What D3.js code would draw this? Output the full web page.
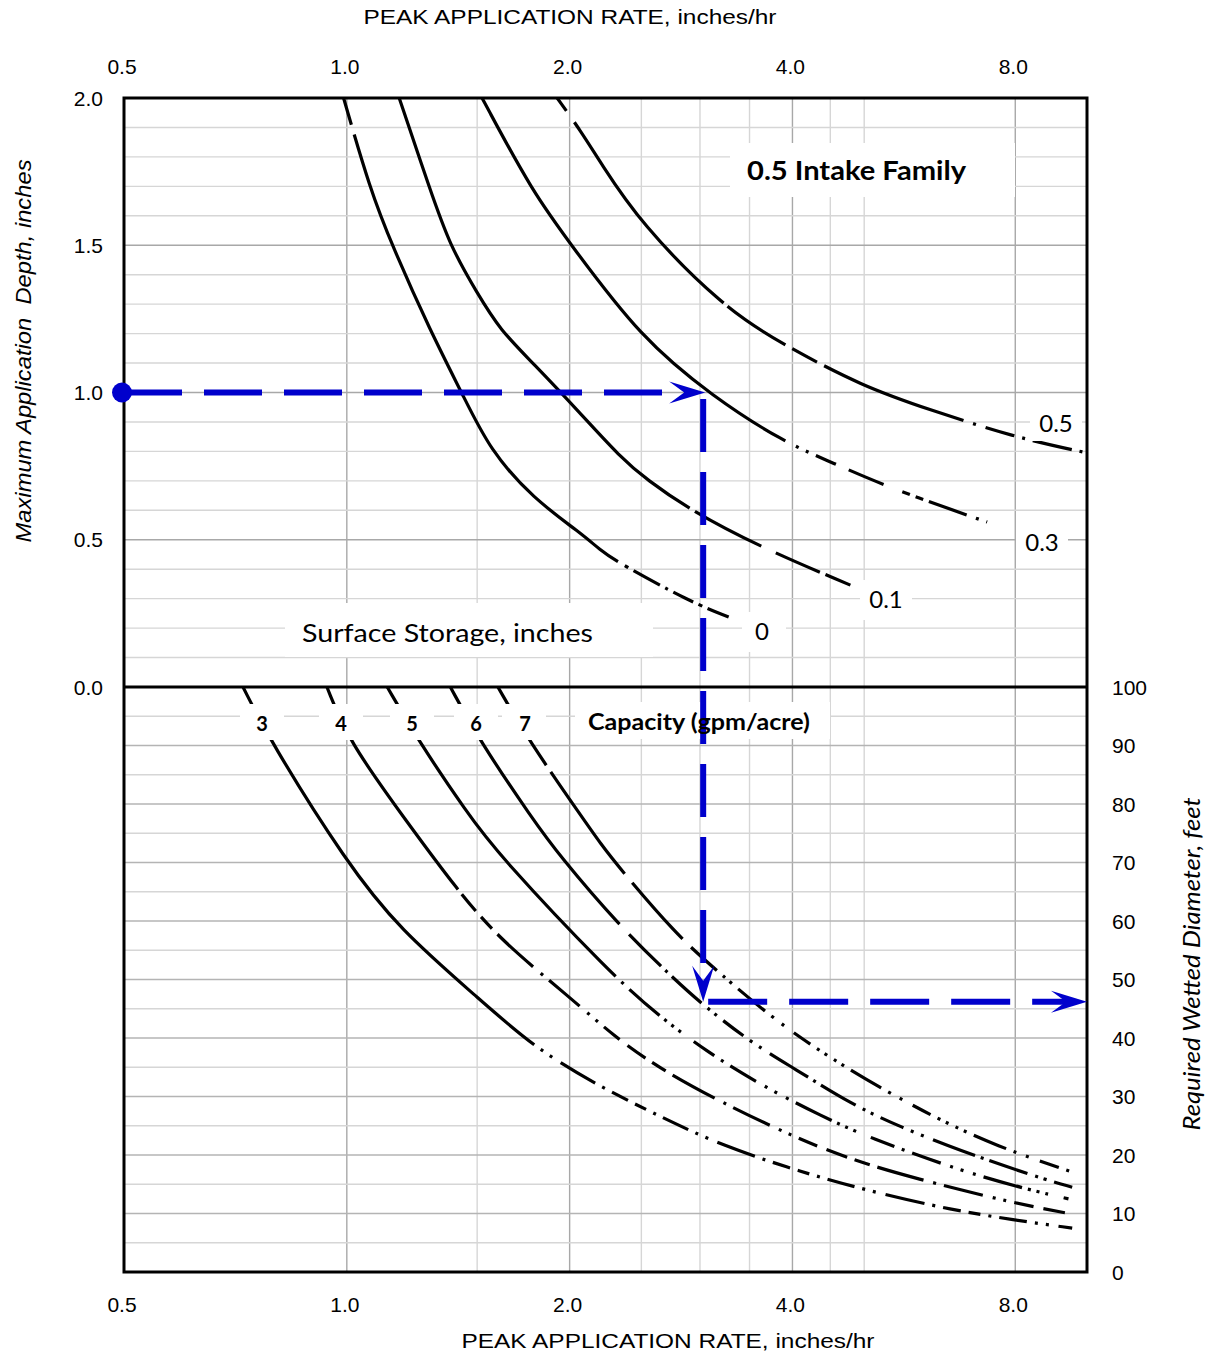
<!DOCTYPE html>
<html>
<head>
<meta charset="utf-8">
<script src="https://cdn.jsdelivr.net/npm/d3@7"></script>
<style>
  body { margin: 0; background: #fff; }
  text { font-family: "Liberation Sans", Arial, sans-serif; }
</style>
</head>
<body>
<script>
// ---- data ----
const rateTicks = [0.5, 1.0, 2.0, 4.0, 8.0];
const rateGrid = [1, 1.5, 2, 2.5, 3, 3.5, 4, 4.5, 5, 8];
const rateGridMajor = [1, 2, 4, 8];
const depthTicks = [0, 0.5, 1.0, 1.5, 2.0];
const diamTicks = [0, 10, 20, 30, 40, 50, 60, 70, 80, 90, 100];

// surface storage curves (rate in/hr, max depth in)
const storageLevels = ["0", "0.1", "0.3", "0.5"];
const storage0 = [[0.99,2.0],[1.075,1.69],[1.151,1.50],[1.296,1.21],[1.436,0.99],[1.56,0.805],[1.785,0.64],[2.07,0.523],[2.2,0.465],[2.32,0.424],[2.91,0.289],[3.28,0.238]];
const storage01 = [[1.177,2.0],[1.296,1.688],[1.379,1.497],[1.5,1.338],[1.611,1.212],[1.785,1.10],[2.067,0.93],[2.34,0.781],[2.545,0.703],[2.91,0.601],[3.62,0.475],[4.79,0.346]];
const storage03 = [[1.523,2.0],[1.785,1.677],[2.016,1.497],[2.49,1.188],[3.125,0.985],[3.89,0.832],[4.54,0.761],[5.37,0.679],[7.33,0.560]];
const storage05 = [[1.924,2.0],[2.067,1.891],[2.199,1.783],[2.49,1.576],[3.225,1.29],[3.85,1.168],[4.99,1.019],[6.14,0.941],[7.95,0.849],[10.0,0.795]];

// capacity curves (rate in/hr, wetted diameter ft)
const capacityLevels = ["3", "4", "5", "6", "7"];
const cap3 = [[0.724,100],[0.787,90.9],[1.0,69.9],[1.18,58.5],[1.5,47.0],[1.785,38.5],[2.2,31.6],[2.71,26.0],[3.2,21.7],[4.1,17.1],[5.2,13.5],[6.58,10.6],[7.95,8.9],[9.55,7.5]];
const cap4 = [[0.94,100],[1.004,90.9],[1.20,77.3],[1.41,65.3],[1.61,56.8],[2.0,47.0],[2.30,40.2],[2.63,35.0],[3.16,29.4],[4.01,23.1],[4.83,19.1],[5.82,16.1],[7.93,11.8],[9.55,9.9]];
const cap5 = [[1.134,100],[1.248,90.9],[1.454,78.5],[1.596,71.6],[2.28,50.8],[2.65,43.6],[3.07,37.6],[3.62,32.0],[4.40,26.5],[5.05,23.1],[6.74,17.3],[8.38,14.0],[9.44,12.5]];
const cap6 = [[1.38,100],[1.51,90.9],[1.785,77.3],[1.94,71.1],[2.33,59.3],[2.73,50.8],[3.03,45.6],[3.51,39.3],[4.01,34.9],[4.83,28.5],[5.6,24.8],[6.68,20.9],[8.57,16.2],[9.55,14.5]];
const cap7 = [[1.60,100],[1.76,90.9],[2.09,77.3],[2.2,73.3],[2.33,69.2],[2.79,57.6],[3.13,52.0],[4.01,40.2],[5.9,27.7],[7.64,21.2],[9.55,17.1]];

// worked example (blue arrows)
const exampleStart = 0.5;
const exampleRate = 3.03;
const exampleDepth = 1.0;
const exampleDiameter = 46.2;
const exampleEnd = 10;

// ---- layout ----
const W = 1214, H = 1357;
const x = d3.scaleLog().domain([0.5, 10]).range([124, 1087]);
const yDepth = d3.scaleLinear().domain([0, 2]).range([687, 98]);
const yDiam = d3.scaleLinear().domain([0, 100]).range([1272, 687]);
const blue = "#0000cc";

const svg = d3.select("body").append("svg")
    .attr("width", W)
    .attr("height", H);

// dash helper: leading pattern then a repeating cycle
function dashes(lead, cycle) {
  const out = [...lead];
  let len = d3.sum(lead);
  while (len < 2500) { out.push(...cycle); len += d3.sum(cycle); }
  return out.join(",");
}

// ---- grid ----
const grid = svg.append("g");
grid.selectAll("line.v")
  .data(rateGrid)
  .join("line")
    .attr("x1", d => x(d)).attr("x2", d => x(d))
    .attr("y1", yDepth(2)).attr("y2", yDiam(0))
    .attr("stroke", d => rateGridMajor.includes(d) ? "#a8a8a8" : "#d6d6d6")
    .attr("stroke-width", 1.4);

grid.selectAll("line.hd")
  .data(d3.range(1, 20).map(i => i / 10))
  .join("line")
    .attr("x1", x(0.5)).attr("x2", x(10))
    .attr("y1", d => yDepth(d)).attr("y2", d => yDepth(d))
    .attr("stroke", d => Math.abs(d * 2 - Math.round(d * 2)) < 1e-6 ? "#a8a8a8" : "#d6d6d6")
    .attr("stroke-width", 1.4);

grid.selectAll("line.hw")
  .data(d3.range(1, 20).map(i => i * 5))
  .join("line")
    .attr("x1", x(0.5)).attr("x2", x(10))
    .attr("y1", d => yDiam(d)).attr("y2", d => yDiam(d))
    .attr("stroke", d => d % 10 === 0 ? "#b4b4b4" : "#d6d6d6")
    .attr("stroke-width", 1.4);

// ---- curves ----
const lineDepth = d3.line()
    .x(d => x(d[0])).y(d => yDepth(d[1]))
    .curve(d3.curveBasis);
const lineDiam = d3.line()
    .x(d => x(d[0])).y(d => yDiam(d[1]))
    .curve(d3.curveBasis);

const storageSeries = [
  {name: storageLevels[0], values: storage0, dash: dashes([28,10,514,8], [4,6,30,6,3,6,22,6])},
  {name: storageLevels[1], values: storage01, dash: dashes([515,6,75,16], [48,6,52,8])},
  {name: storageLevels[2], values: storage03, dash: dashes([465,12], [3,8,3,8,22,14,38,20,8,6,8,6,40,10])},
  {name: storageLevels[3], values: storage05, dash: dashes([16,14,235,5,70,8,28,8,150,10], [3,10,30,8,3,8,40,8,3,8,80,6])}
];
const capacitySeries = [
  {name: capacityLevels[0], values: cap3, dash: dashes([466,8], [3,8,3,10,40,8,3,8,18,8,12,8,3,8,28,8])},
  {name: capacityLevels[1], values: cap4, dash: dashes([242,6], [22,8,16,8,48,10,3,8,40,10,3,8,3,8,20,10])},
  {name: capacityLevels[2], values: cap5, dash: dashes([370,8], [3,8,40,6,3,6,3,6,3,16,25,8,3,8,30,10,3,8,3,10])},
  {name: capacityLevels[3], values: cap6, dash: dashes([292,14], [45,6,3,6,40,8,3,6,3,8,25,8,3,8,3,10])},
  {name: capacityLevels[4], values: cap7, dash: dashes([92,8,126,12,75,12,35,8], [3,6,3,8,35,8,3,10,3,12,20,8,3,6,3,8])}
];

const curves = svg.append("g")
    .attr("fill", "none")
    .attr("stroke", "#000")
    .attr("stroke-width", 3.2);
curves.selectAll("path.s")
  .data(storageSeries)
  .join("path")
    .attr("d", d => lineDepth(d.values))
    .attr("stroke-dasharray", d => d.dash);
curves.selectAll("path.c")
  .data(capacitySeries)
  .join("path")
    .attr("d", d => lineDiam(d.values))
    .attr("stroke-dasharray", d => d.dash);

// ---- label boxes (white) ----
const notes = [
  {text: "0.5 Intake Family", x: 747, y: 180, size: 26, weight: 700, len: 219, box: [730, 143, 285, 54]},
  {text: "Surface Storage, inches", x: 302, y: 642, size: 25, weight: 400, len: 291, box: [285, 603, 368, 54]},
  {text: "0", x: 762, y: 640, size: 24, weight: 400, anchor: "middle", box: [742, 612, 44, 40]},
  {text: "0.1", x: 886, y: 608, size: 24, weight: 400, anchor: "middle", box: [860, 580, 52, 40]},
  {text: "0.3", x: 1042, y: 551, size: 24, weight: 400, anchor: "middle", box: [1016, 525, 52, 38]},
  {text: "0.5", x: 1056, y: 432, size: 24, weight: 400, anchor: "middle", box: [1030, 408, 52, 33]},
  {text: "3", x: 262, y: 731, size: 20, weight: 700, anchor: "middle", box: [240, 704, 44, 36]},
  {text: "4", x: 341, y: 731, size: 20, weight: 700, anchor: "middle", box: [319, 704, 44, 36]},
  {text: "5", x: 412, y: 731, size: 20, weight: 700, anchor: "middle", box: [390, 704, 44, 36]},
  {text: "6", x: 476, y: 731, size: 20, weight: 700, anchor: "middle", box: [454, 704, 44, 36]},
  {text: "7", x: 525, y: 731, size: 20, weight: 700, anchor: "middle", box: [502, 704, 44, 36]},
  {text: "Capacity (gpm/acre)", x: 588, y: 730, size: 22, weight: 700, len: 222, box: [575, 702, 255, 37]}
];

svg.append("g").selectAll("rect")
  .data(notes)
  .join("rect")
    .attr("x", d => d.box[0]).attr("y", d => d.box[1])
    .attr("width", d => d.box[2]).attr("height", d => d.box[3])
    .attr("fill", "#fff");

// ---- frame ----
svg.append("rect")
    .attr("x", x(0.5)).attr("y", yDepth(2))
    .attr("width", x(10) - x(0.5)).attr("height", yDiam(0) - yDepth(2))
    .attr("fill", "none").attr("stroke", "#000").attr("stroke-width", 3);
svg.append("line")
    .attr("x1", x(0.5)).attr("x2", x(10))
    .attr("y1", yDepth(0)).attr("y2", yDepth(0))
    .attr("stroke", "#000").attr("stroke-width", 3);

// ---- worked example ----
const arrow = "M0,0 L-36,-11 L-21,0 L-36,11 Z";
const ex = svg.append("g").attr("stroke", blue).attr("stroke-width", 6).attr("fill", "none");
const px0 = x(exampleStart), px1 = x(exampleRate), px2 = x(exampleEnd);
const py1 = yDepth(exampleDepth), py2 = yDiam(exampleDiameter);

ex.append("line")
    .attr("x1", px0).attr("x2", px1 - 36)
    .attr("y1", py1).attr("y2", py1)
    .attr("stroke-dasharray", "58,22");
ex.append("line")
    .attr("x1", px1).attr("x2", px1)
    .attr("y1", py1).attr("y2", py2 - 26)
    .attr("stroke-dasharray", "53,20")
    .attr("stroke-dashoffset", 66.5);
ex.append("line")
    .attr("x1", px1).attr("x2", px2 - 20)
    .attr("y1", py2).attr("y2", py2)
    .attr("stroke-dasharray", "59,22")
    .attr("stroke-dashoffset", 76);

svg.append("circle")
    .attr("cx", px0 - 2).attr("cy", py1)
    .attr("r", 10).attr("fill", blue);
svg.append("path").attr("d", arrow).attr("fill", blue)
    .attr("transform", `translate(${px1 + 2},${py1})`);
svg.append("path").attr("d", arrow).attr("fill", blue)
    .attr("transform", `translate(${px1},${py2})rotate(90)`);
svg.append("path").attr("d", arrow).attr("fill", blue)
    .attr("transform", `translate(${px2},${py2})`);

// ---- annotation text ----
svg.append("g").selectAll("text")
  .data(notes)
  .join("text")
    .attr("x", d => d.x).attr("y", d => d.y)
    .attr("text-anchor", d => d.anchor || "start")
    .style("font-family", "Lato")
    .attr("font-size", d => d.size)
    .attr("font-weight", d => d.weight)
    .attr("textLength", d => d.len || null)
    .attr("lengthAdjust", d => d.len ? "spacingAndGlyphs" : null)
    .attr("fill", "#000")
    .text(d => d.text);

// ---- axes ----
const tickFmt = d3.format(".1f");
const axes = svg.append("g").attr("font-size", 21).attr("fill", "#000");

axes.selectAll("text.top")
  .data(rateTicks)
  .join("text")
    .attr("x", d => x(d) - 2).attr("y", 74)
    .attr("text-anchor", "middle")
    .text(tickFmt);
axes.selectAll("text.bottom")
  .data(rateTicks)
  .join("text")
    .attr("x", d => x(d) - 2).attr("y", 1312)
    .attr("text-anchor", "middle")
    .text(tickFmt);
axes.selectAll("text.left")
  .data(depthTicks)
  .join("text")
    .attr("x", 103).attr("y", d => yDepth(d))
    .attr("dy", "0.36em")
    .attr("text-anchor", "end")
    .text(tickFmt);
axes.selectAll("text.right")
  .data(diamTicks)
  .join("text")
    .attr("x", 1112).attr("y", d => yDiam(d))
    .attr("dy", "0.36em")
    .text(d => d);

// titles
svg.append("text")
    .attr("x", 570).attr("y", 24)
    .attr("text-anchor", "middle")
    .attr("font-size", 20)
    .attr("textLength", 413).attr("lengthAdjust", "spacingAndGlyphs")
    .text("PEAK APPLICATION RATE, inches/hr");
svg.append("text")
    .attr("x", 668).attr("y", 1348)
    .attr("text-anchor", "middle")
    .attr("font-size", 20)
    .attr("textLength", 413).attr("lengthAdjust", "spacingAndGlyphs")
    .text("PEAK APPLICATION RATE, inches/hr");
svg.append("text")
    .attr("transform", "translate(31,351) rotate(-90)")
    .attr("text-anchor", "middle")
    .attr("font-size", 22)
    .attr("font-style", "italic")
    .style("white-space", "pre")
    .attr("textLength", 383).attr("lengthAdjust", "spacingAndGlyphs")
    .text("Maximum Application  Depth, inches");
svg.append("text")
    .attr("transform", "translate(1200,964) rotate(-90)")
    .attr("text-anchor", "middle")
    .style("font-family", "Lato")
    .attr("font-size", 23)
    .attr("font-style", "italic")
    .attr("textLength", 333).attr("lengthAdjust", "spacingAndGlyphs")
    .text("Required Wetted Diameter, feet");
</script>
</body>
</html>
